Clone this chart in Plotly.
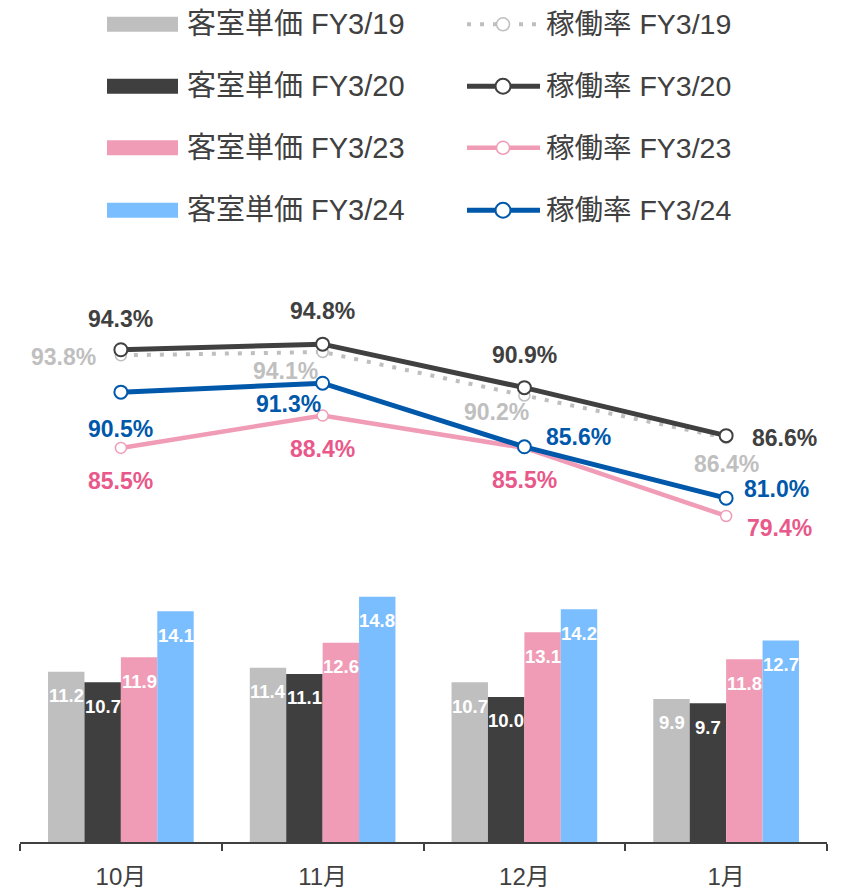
import plotly.graph_objects as go

# ---------------- data ----------------
months = ['10月', '11月', '12月', '1月']

price_names = ['客室単価 FY3/19', '客室単価 FY3/20', '客室単価 FY3/23', '客室単価 FY3/24']
price_fy19 = [11.2, 11.4, 10.7, 9.9]
price_fy20 = [10.7, 11.1, 10.0, 9.7]
price_fy23 = [11.9, 12.6, 13.1, 11.8]
price_fy24 = [14.1, 14.8, 14.2, 12.7]

occ_names = ['稼働率 FY3/19', '稼働率 FY3/20', '稼働率 FY3/23', '稼働率 FY3/24']
occ_fy19 = [93.8, 94.1, 90.2, 86.4]
occ_fy20 = [94.3, 94.8, 90.9, 86.6]
occ_fy23 = [85.5, 88.4, 85.5, 79.4]
occ_fy24 = [90.5, 91.3, 85.6, 81.0]

# ---------------- styles ----------------
FONT = "Arial, 'Liberation Sans', 'Noto Sans CJK JP', sans-serif"
TXT = '#404040'
bar_colors = ['#BFBFBF', '#3F3F3F', '#F09CB6', '#7ABEFF']
line_colors = ['#BFBFBF', '#404040', '#F09CB6', '#0058AA']
label_colors = ['#BFBFBF', '#404040', '#E9588A', '#0058AA']
line_widths = [4, 5, 4.5, 5]
line_dash = ['4px,9px', 'solid', 'solid', 'solid']
marker_sizes = [11, 13, 11, 13]
marker_lw = [1.5, 2, 1.5, 2]

# label offsets (pixels) for occupancy labels, per series per month
occ_offsets = [
    [(-57, -2), (-37, -19), (-28, -17), (0, -26)],
    [(0, 31), (0, 33), (0, 33), (58, -2)],
    [(0, -33), (0, -33), (0, -32), (53, -12)],
    [(0, -37), (-34, -21), (54, 10), (50, 9)],
]

# the page body adds an 8px offset; layout is compensated for it
OFF = 8
W, H = 847, 894
L, R, T, B = 12, 28, 232, 55
PW, PH = W - L - R, H - T - B

prices = [price_fy19, price_fy20, price_fy23, price_fy24]
occs = [occ_fy19, occ_fy20, occ_fy23, occ_fy24]

fig = go.Figure()

for name, vals, col in zip(price_names, prices, bar_colors):
    fig.add_trace(go.Bar(x=months, y=vals, name=name, marker=dict(color=col, line=dict(width=0)),
                         yaxis='y', showlegend=False, hoverinfo='skip'))

for i in [0, 2, 1, 3]:
    fig.add_trace(go.Scatter(
        x=months, y=occs[i], name=occ_names[i], mode='lines+markers', yaxis='y2',
        line=dict(color=line_colors[i], width=line_widths[i], dash=line_dash[i]),
        marker=dict(size=marker_sizes[i], color='white',
                    line=dict(color=line_colors[i], width=marker_lw[i])),
        showlegend=False, hoverinfo='skip'))

annotations = []
# bar value labels
BARGAP = 0.278
bar_w = PW / 4 * (1 - BARGAP) / 4
for i, vals in enumerate(prices):
    for m, v in zip(months, vals):
        annotations.append(dict(
            x=m, y=v, xref='x', yref='y', text=f'{v:.1f}', showarrow=False,
            xshift=(i - 1.5) * bar_w, yshift=-24,
            font=dict(family=FONT, size=18.5, color='white', weight='bold')))

# occupancy labels
for i, vals in enumerate(occs):
    for j, (m, v) in enumerate(zip(months, vals)):
        dx, dy = occ_offsets[i][j]
        annotations.append(dict(
            x=m, y=v, xref='x', yref='y2', text=f'{v:.1f}%', showarrow=False,
            xshift=dx, yshift=dy,
            font=dict(family=FONT, size=23, color=label_colors[i], weight='bold')))

# custom legend (screen-pixel positions converted to paper coordinates)
def px(X):
    return (X - OFF - L) / PW

def py(Y):
    return (H - B - (Y - OFF)) / PH

rows = [22.5, 85, 147, 210]
shapes = []
for k in range(4):
    yc = rows[k]
    shapes.append(dict(type='rect', xref='paper', yref='paper',
                       x0=px(107), x1=px(178), y0=py(yc + 7.5), y1=py(yc - 7.5),
                       fillcolor=bar_colors[k], line=dict(width=0)))
    annotations.append(dict(x=px(185), y=py(yc), xref='paper', yref='paper',
                            text=price_names[k], showarrow=False, xanchor='left', yanchor='middle',
                            font=dict(family=FONT, size=29, color=TXT)))
    shapes.append(dict(type='line', xref='paper', yref='paper',
                       x0=px(467), x1=px(540), y0=py(yc), y1=py(yc),
                       line=dict(color=line_colors[k], width=line_widths[k], dash=line_dash[k])))
    r = (marker_sizes[k] + 2) / 2
    shapes.append(dict(type='circle', xref='paper', yref='paper',
                       xsizemode='pixel', ysizemode='pixel', xanchor=px(503), yanchor=py(yc),
                       x0=-r, x1=r, y0=-r, y1=r, fillcolor='white',
                       line=dict(color=line_colors[k], width=marker_lw[k])))
    annotations.append(dict(x=px(544), y=py(yc), xref='paper', yref='paper',
                            text=occ_names[k], showarrow=False, xanchor='left', yanchor='middle',
                            font=dict(family=FONT, size=28.5, color=TXT)))

# axis ranges so bars and lines sit where they do in the reference
bar_px_per_unit = 21.04
bar_min = 3.046
line_px_per_unit = 11.25
line_min = 50.18

fig.update_layout(
    width=W, height=H,
    margin=dict(l=L, r=R, t=T, b=B),
    paper_bgcolor='white', plot_bgcolor='white',
    barmode='group', bargap=BARGAP, bargroupgap=0,
    font=dict(family=FONT, color=TXT),
    xaxis=dict(type='category', range=[-0.5, 3.5], showgrid=False, zeroline=False,
               showline=True, linecolor=TXT, linewidth=1.5,
               ticks='outside', ticklen=7, tickwidth=1.5, tickcolor=TXT, tickson='boundaries',
               ticklabelstandoff=12,
               tickfont=dict(family=FONT, size=24, color=TXT)),
    yaxis=dict(range=[bar_min, bar_min + PH / bar_px_per_unit], visible=False, fixedrange=True),
    yaxis2=dict(range=[line_min, line_min + PH / line_px_per_unit], overlaying='y',
                visible=False, fixedrange=True),
    showlegend=False,
    annotations=annotations,
    shapes=shapes,
)

fig.write_html('out.html')
